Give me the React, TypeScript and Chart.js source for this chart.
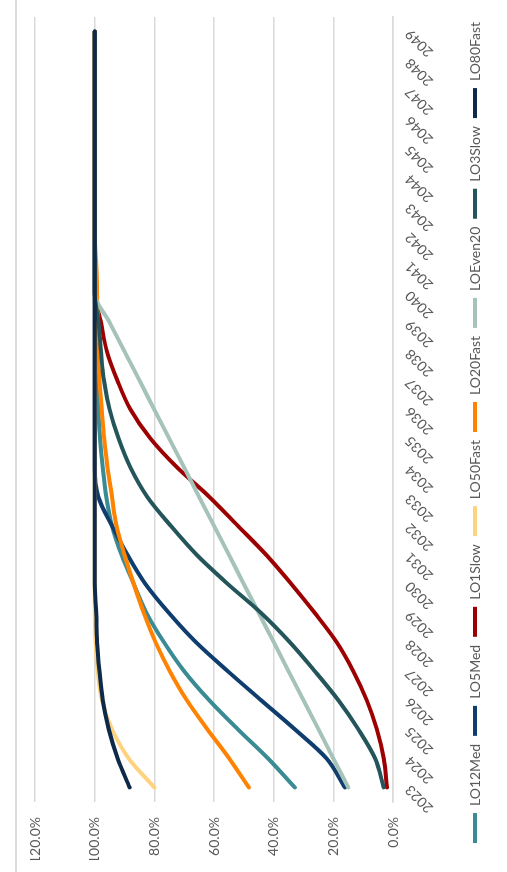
import { useEffect, useRef } from "react";
import { Chart, registerables } from "chart.js";

Chart.register(...registerables);

const years = [
  "2023", "2024", "2025", "2026", "2027", "2028", "2029", "2030", "2031",
  "2032", "2033", "2034", "2035", "2036", "2037", "2038", "2039", "2040",
  "2041", "2042", "2043", "2044", "2045", "2046", "2047", "2048", "2049",
];

const lo12Med = [32.9, 41.9, 52.0, 61.6, 70.0, 76.8, 82.6, 86.9, 91.0, 94.2, 96.1, 97.3, 98.2, 98.8, 99.3, 99.6, 99.8, 100, 100, 100, 100, 100, 100, 100, 100, 100, 100];
const lo5Med = [16.1, 22.3, 32.9, 44.2, 55.4, 66.1, 75.1, 83.0, 89.0, 94.2, 98.8, 100, 100, 100, 100, 100, 100, 100, 100, 100, 100, 100, 100, 100, 100, 100, 100];
const lo1Slow = [2.0, 3.1, 5.4, 8.8, 13.3, 18.9, 26.2, 34.1, 42.5, 52.0, 61.6, 72.3, 81.3, 88.0, 92.4, 95.9, 97.9, 100, 100, 100, 100, 100, 100, 100, 100, 100, 100];
const lo50Fast = [80.0, 88.6, 94.2, 97.6, 99.0, 99.7, 100, 100, 100, 100, 100, 100, 100, 100, 100, 100, 100, 100, 100, 100, 100, 100, 100, 100, 100, 100, 100];
const lo20Fast = [48.3, 54.9, 62.2, 69.1, 74.8, 79.6, 83.5, 86.9, 90.0, 92.7, 94.2, 95.7, 96.8, 97.6, 98.4, 98.8, 99.0, 99.2, 99.5, 100, 100, 100, 100, 100, 100, 100, 100];
const loEven20 = [15, 20, 25, 30, 35, 40, 45, 50, 55, 60, 65, 70, 75, 80, 85, 90, 95, 100, 100, 100, 100, 100, 100, 100, 100, 100, 100];
const lo3Slow = [3.1, 6.0, 11.6, 18.3, 26.2, 34.6, 44.2, 55.4, 65.8, 74.5, 82.4, 88.0, 92.0, 95.0, 96.9, 97.9, 98.7, 100, 100, 100, 100, 100, 100, 100, 100, 100, 100];
const lo80Fast = [88.3, 92.3, 95.3, 97.3, 98.4, 99.2, 99.5, 100, 100, 100, 100, 100, 100, 100, 100, 100, 100, 100, 100, 100, 100, 100, 100, 100, 100, 100, 100];

const seriesNames = ["LO12Med", "LO5Med", "LO1Slow", "LO50Fast", "LO20Fast", "LOEven20", "LO3Slow", "LO80Fast"];
const seriesValues = [lo12Med, lo5Med, lo1Slow, lo50Fast, lo20Fast, loEven20, lo3Slow, lo80Fast];
const seriesColors = ["#3A8B93", "#0E3D6E", "#9C0000", "#FFD27F", "#FF8300", "#A6C3B9", "#23555A", "#0D2A4A"];

const yTicks = [0, 20, 40, 60, 80, 100, 120];

const TEXT = "#595959";
const FONT = "Lato";

export default function App() {
  const ref = useRef<HTMLCanvasElement>(null);

  useEffect(() => {
    const canvas = ref.current;
    if (!canvas) return;
    // Chart.js paints dataset 0 on top, so feed the series in reverse
    // (last series painted on top) and reverse the legend back.
    const datasets = seriesNames
      .map((name, i) => ({
        label: name,
        data: seriesValues[i],
        borderColor: seriesColors[i],
        backgroundColor: seriesColors[i],
        borderWidth: 4,
        pointRadius: 0,
        pointHoverRadius: 0,
        cubicInterpolationMode: "monotone" as const,
        borderCapStyle: "round" as const,
        borderJoinStyle: "round" as const,
        fill: false,
      }))
      .reverse();
    const chart = new Chart(canvas, {
      type: "line",
      data: { labels: years, datasets },
      options: {
        responsive: false,
        animation: false,
        devicePixelRatio: window.devicePixelRatio || 1,
        layout: { padding: { top: 35, left: 12, right: 5, bottom: 15 } },
        plugins: {
          tooltip: { enabled: false },
          legend: {
            position: "bottom",
            reverse: true,
            labels: {
              boxWidth: 30,
              boxHeight: 4,
              padding: 8,
              color: TEXT,
              font: { family: FONT, size: 14 },
              generateLabels: (c: any) =>
                Chart.defaults.plugins.legend.labels
                  .generateLabels(c)
                  .map((l: any) => ({ ...l, lineWidth: 0 })),
            },
          },
        },
        scales: {
          x: {
            type: "category",
            offset: true,
            grid: { display: false, drawTicks: false },
            border: { display: true, color: "#d9d9d9", width: 1.5 },
            ticks: {
              minRotation: 45,
              maxRotation: 45,
              autoSkip: false,
              padding: 9,
              color: TEXT,
              font: { family: FONT, size: 14 },
            },
            afterFit: (s: any) => {
              s.height = 67;
            },
          },
          y: {
            min: 0,
            max: 120,
            afterBuildTicks: (s: any) => {
              s.ticks = yTicks.map((v) => ({ value: v }));
            },
            ticks: {
              padding: 15,
              color: TEXT,
              font: { family: FONT, size: 14 },
              callback: (v: any) => Number(v).toFixed(1) + "%",
            },
            grid: { color: "#d9d9d9", lineWidth: 1.5, drawTicks: false },
            border: { display: false },
            afterFit: (s: any) => {
              s.width = 58;
            },
          },
          y2: {
            position: "right",
            display: true,
            grid: { display: false, drawTicks: false },
            border: { display: false },
            ticks: { display: false },
            afterFit: (s: any) => {
              s.width = 12;
            },
          },
        },
      } as any,
    });
    return () => chart.destroy();
  }, []);

  return (
    <div
      style={{
        position: "fixed",
        left: 0,
        top: 0,
        width: 507,
        height: 872,
        background: "#ffffff",
        overflow: "hidden",
      }}
    >
      <div
        style={{
          position: "absolute",
          left: 0,
          top: 0,
          width: 872,
          height: 507,
          transformOrigin: "0 0",
          transform: "translateY(872px) rotate(-90deg)",
        }}
      >
        <canvas
          ref={ref}
          width={872}
          height={507}
          style={{ display: "block", width: 872, height: 507 }}
        />
      </div>
      <div
        style={{
          position: "absolute",
          left: 15,
          top: 0,
          width: 2,
          height: 872,
          background: "#dcdcdc",
        }}
      />
    </div>
  );
}
